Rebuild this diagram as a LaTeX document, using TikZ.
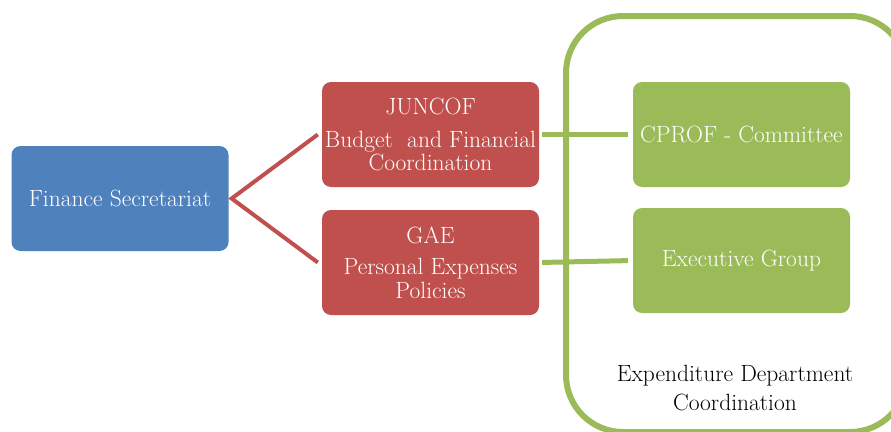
\documentclass[tikz,border=0pt]{standalone}
\usepackage{fontspec}
\usepackage{xcolor}
\usetikzlibrary{positioning}
\definecolor{boxblue}{HTML}{4F81BD}
\definecolor{boxred}{HTML}{C0504D}
\definecolor{boxgreen}{HTML}{9BBB59}
\tikzset{
  unit/.style={rounded corners=9pt, minimum width=217pt, minimum height=105pt,
    inner sep=0pt, text=white, align=center, font=\fontsize{23.5}{23.5}\selectfont},
}

\begin{document}
\begin{tikzpicture}[x=1pt,y=-1pt]
      \useasboundingbox (0,0) rectangle (891,431);
      \clip (0,0) rectangle (891,431);

      \draw[boxgreen, line width=6pt, rounded corners=57pt] (566,16) rectangle (907,432);

      \node[unit, fill=boxblue] (A) at (120,198.5) {Finance Secretariat};
      \node[unit, fill=boxred] (B) at (430.5,134.5) {JUNCOF\\[9pt]Budget\ \ and Financial\\Coordination};
      \node[unit, fill=boxred] (C) at (430.5,262.5) {GAE\\[8pt]Personal Expenses\\Policies};
      \node[unit, fill=boxgreen] (D) at (741.5,134.5) {CPROF - Committee};
      \node[unit, fill=boxgreen] (E) at (741.5,260.5) {Executive Group};
      \node[align=center, font=\fontsize{23.5}{29}\selectfont] (F) at (735,388) {Expenditure Department\\Coordination};

      \draw[boxred, line width=4pt] ([xshift=-4pt]B.west) -- ([xshift=3pt]A.east) -- ([xshift=-4pt]C.west);
      \draw[boxgreen, line width=5pt, shorten <=3pt, shorten >=5pt] (B.east) -- (D.west);
      \draw[boxgreen, line width=5pt, shorten <=3pt, shorten >=5pt] (C.east) -- (E.west);

    \end{tikzpicture}
\end{document}
